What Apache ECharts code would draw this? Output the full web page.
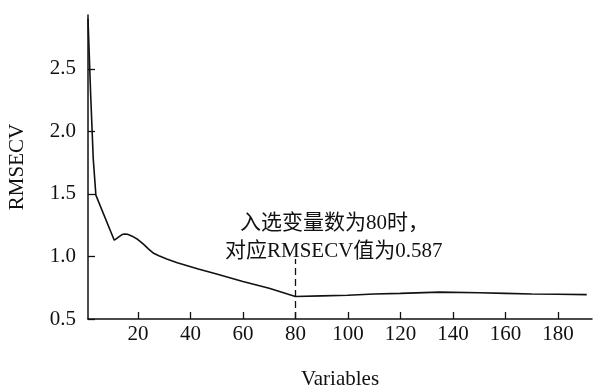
<!DOCTYPE html>
<html>
<head>
<meta charset="utf-8">
<script src="https://cdn.jsdelivr.net/npm/echarts@6/dist/echarts.min.js"></script>
<style>html,body{margin:0;padding:0;background:#fff}#c{width:593px;height:390px}</style>
</head>
<body>
<div id="c"></div>
<script>
var variables = [1, 2, 3, 4, 11, 12, 13, 14, 15, 16, 17, 18, 20, 22, 24, 26, 28, 31, 35, 43, 50, 60, 70, 80, 90, 100, 110, 120, 135, 150, 160, 170, 180, 191];
var rmsecv = [2.90, 2.30, 1.78, 1.49, 1.13, 1.145, 1.16, 1.175, 1.18, 1.178, 1.17, 1.16, 1.135, 1.10, 1.06, 1.025, 1.005, 0.98, 0.95, 0.90, 0.86, 0.80, 0.745, 0.68, 0.685, 0.69, 0.70, 0.705, 0.715, 0.71, 0.705, 0.70, 0.698, 0.695];
var xTicks = [20, 40, 60, 80, 100, 120, 140, 160, 180];
var yTicks = [0.5, 1.0, 1.5, 2.0, 2.5];
var selectedX = 80;
var dashTop = 0.98;
var note1 = '入选变量数为80时，';
var note2 = '对应RMSECV值为0.587';

var FONT = '"Liberation Serif", "Noto Sans CJK SC", serif';
var chart = echarts.init(document.getElementById('c'), null, {renderer: 'canvas'});
chart.setOption({
  animation: false,
  backgroundColor: '#fff',
  grid: {left: 88, right: 1, top: 15, bottom: 71, containLabel: false, outerBoundsMode: 'none'},
  xAxis: {
    type: 'value', min: 1, max: 193,
    name: 'Variables', nameLocation: 'middle', nameGap: 50,
    nameTextStyle: {fontFamily: FONT, fontSize: 21, color: '#111'},
    axisLine: {show: true, onZero: false, lineStyle: {color: '#111', width: 1.5}},
    axisTick: {show: true, inside: true, length: 7, customValues: xTicks, lineStyle: {color: '#111', width: 1.3}},
    axisLabel: {customValues: xTicks, fontFamily: FONT, fontSize: 21, color: '#111', margin: 5,
      formatter: function(v){return String(v);}},
    splitLine: {show: false}
  },
  yAxis: {
    type: 'value', min: 0.5, max: 2.93,
    name: 'RMSECV', nameLocation: 'middle', nameGap: 60, nameRotate: 90,
    nameTextStyle: {fontFamily: FONT, fontSize: 21, color: '#111'},
    axisLine: {show: true, onZero: false, lineStyle: {color: '#111', width: 1.5}},
    axisTick: {show: true, inside: true, length: 7, customValues: yTicks, lineStyle: {color: '#111', width: 1.3}},
    axisLabel: {customValues: yTicks, fontFamily: FONT, fontSize: 21, color: '#111', margin: 12,
      formatter: function(v){return v.toFixed(1);}},
    splitLine: {show: false}
  },
  series: [{
    type: 'line',
    data: variables.map(function(x, i){return [x, rmsecv[i]];}),
    showSymbol: false,
    smooth: false,
    lineStyle: {color: '#111', width: 1.6},
    markLine: {
      silent: true, symbol: 'none',
      lineStyle: {type: [7, 4], color: '#111', width: 1.3},
      label: {show: false},
      data: [[{coord: [selectedX, 0.5]}, {coord: [selectedX, dashTop]}]]
    }
  }],
  graphic: [
    {type: 'text', left: 240, top: 213, style: {text: note1, font: '21px ' + FONT, fill: '#111'}},
    {type: 'text', left: 225, top: 241, style: {text: note2, font: '21px ' + FONT, fill: '#111'}}
  ]
});
</script>
</body>
</html>
